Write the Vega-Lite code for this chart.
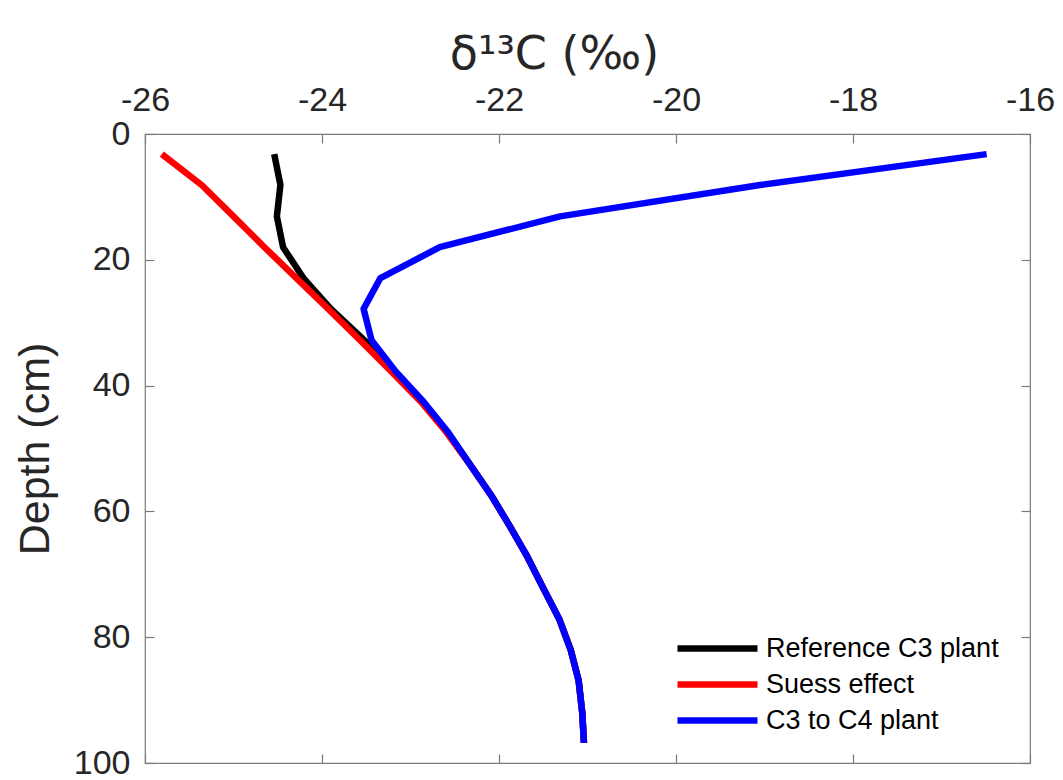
{
  "$schema": "https://vega.github.io/schema/vega-lite/v6.json",
  "width": 885,
  "height": 629,
  "autosize": {"type": "none"},
  "padding": {"left": 145, "top": 134, "right": 33, "bottom": 17},
  "background": "white",
  "config": {
    "font": "Liberation Sans",
    "view": {"stroke": "#7a7a7a", "strokeWidth": 1.2},
    "axis": {
      "domain": false,
      "grid": false,
      "tickColor": "#7a7a7a",
      "tickSize": -9,
      "tickWidth": 1.2,
      "labelFlush": false,
      "labelFont": "Liberation Sans",
      "labelFontSize": 34,
      "labelColor": "#262626",
      "titleFont": "Liberation Sans",
      "titleFontWeight": "normal",
      "titleColor": "#262626"
    }
  },
  "data": {
    "values": [
      {"series": "Reference C3 plant", "depth": 3.2, "d13C": -24.54},
      {"series": "Reference C3 plant", "depth": 8.1, "d13C": -24.47},
      {"series": "Reference C3 plant", "depth": 13.1, "d13C": -24.51},
      {"series": "Reference C3 plant", "depth": 18.0, "d13C": -24.44},
      {"series": "Reference C3 plant", "depth": 22.9, "d13C": -24.21},
      {"series": "Reference C3 plant", "depth": 27.8, "d13C": -23.90},
      {"series": "Reference C3 plant", "depth": 32.8, "d13C": -23.52},
      {"series": "Reference C3 plant", "depth": 37.7, "d13C": -23.18},
      {"series": "Reference C3 plant", "depth": 42.6, "d13C": -22.87},
      {"series": "Reference C3 plant", "depth": 47.5, "d13C": -22.58},
      {"series": "Reference C3 plant", "depth": 52.5, "d13C": -22.33},
      {"series": "Reference C3 plant", "depth": 57.4, "d13C": -22.09},
      {"series": "Reference C3 plant", "depth": 62.3, "d13C": -21.88},
      {"series": "Reference C3 plant", "depth": 67.2, "d13C": -21.68},
      {"series": "Reference C3 plant", "depth": 72.2, "d13C": -21.50},
      {"series": "Reference C3 plant", "depth": 77.1, "d13C": -21.32},
      {"series": "Reference C3 plant", "depth": 82.0, "d13C": -21.19},
      {"series": "Reference C3 plant", "depth": 86.9, "d13C": -21.10},
      {"series": "Reference C3 plant", "depth": 91.9, "d13C": -21.06},
      {"series": "Reference C3 plant", "depth": 96.8, "d13C": -21.04},
      {"series": "Suess effect", "depth": 3.2, "d13C": -25.81},
      {"series": "Suess effect", "depth": 8.1, "d13C": -25.36},
      {"series": "Suess effect", "depth": 13.1, "d13C": -25.00},
      {"series": "Suess effect", "depth": 18.0, "d13C": -24.65},
      {"series": "Suess effect", "depth": 22.9, "d13C": -24.29},
      {"series": "Suess effect", "depth": 27.8, "d13C": -23.93},
      {"series": "Suess effect", "depth": 32.8, "d13C": -23.57},
      {"series": "Suess effect", "depth": 37.7, "d13C": -23.22},
      {"series": "Suess effect", "depth": 42.6, "d13C": -22.88},
      {"series": "Suess effect", "depth": 47.5, "d13C": -22.59},
      {"series": "Suess effect", "depth": 52.5, "d13C": -22.33},
      {"series": "Suess effect", "depth": 57.4, "d13C": -22.09},
      {"series": "Suess effect", "depth": 62.3, "d13C": -21.88},
      {"series": "Suess effect", "depth": 67.2, "d13C": -21.68},
      {"series": "Suess effect", "depth": 72.2, "d13C": -21.50},
      {"series": "Suess effect", "depth": 77.1, "d13C": -21.32},
      {"series": "Suess effect", "depth": 82.0, "d13C": -21.19},
      {"series": "Suess effect", "depth": 86.9, "d13C": -21.10},
      {"series": "Suess effect", "depth": 91.9, "d13C": -21.06},
      {"series": "Suess effect", "depth": 96.8, "d13C": -21.04},
      {"series": "C3 to C4 plant", "depth": 3.2, "d13C": -16.49},
      {"series": "C3 to C4 plant", "depth": 8.1, "d13C": -19.05},
      {"series": "C3 to C4 plant", "depth": 13.1, "d13C": -21.31},
      {"series": "C3 to C4 plant", "depth": 18.0, "d13C": -22.67},
      {"series": "C3 to C4 plant", "depth": 22.9, "d13C": -23.34},
      {"series": "C3 to C4 plant", "depth": 27.8, "d13C": -23.53},
      {"series": "C3 to C4 plant", "depth": 32.8, "d13C": -23.44},
      {"series": "C3 to C4 plant", "depth": 37.7, "d13C": -23.17},
      {"series": "C3 to C4 plant", "depth": 42.6, "d13C": -22.85},
      {"series": "C3 to C4 plant", "depth": 47.5, "d13C": -22.57},
      {"series": "C3 to C4 plant", "depth": 52.5, "d13C": -22.33},
      {"series": "C3 to C4 plant", "depth": 57.4, "d13C": -22.09},
      {"series": "C3 to C4 plant", "depth": 62.3, "d13C": -21.88},
      {"series": "C3 to C4 plant", "depth": 67.2, "d13C": -21.68},
      {"series": "C3 to C4 plant", "depth": 72.2, "d13C": -21.50},
      {"series": "C3 to C4 plant", "depth": 77.1, "d13C": -21.32},
      {"series": "C3 to C4 plant", "depth": 82.0, "d13C": -21.19},
      {"series": "C3 to C4 plant", "depth": 86.9, "d13C": -21.10},
      {"series": "C3 to C4 plant", "depth": 91.9, "d13C": -21.06},
      {"series": "C3 to C4 plant", "depth": 96.8, "d13C": -21.04}
    ]
  },
  "layer": [
    {
      "mark": {"type": "line", "strokeWidth": 6.5, "strokeCap": "butt", "strokeJoin": "round"},
      "encoding": {
        "x": {
          "field": "d13C", "type": "quantitative",
          "scale": {"domain": [-26, -16], "nice": false, "zero": false},
          "axis": {
            "orient": "top",
            "values": [-26, -24, -22, -20, -18, -16],
            "labelExpr": "toString(datum.value)",
            "labelPadding": 26,
            "title": "δ¹³C (‰)",
            "titleFont": "DejaVu Sans",
            "titleFontSize": 46,
            "titlePadding": 5,
            "titleX": 409
          }
        },
        "y": {
          "field": "depth", "type": "quantitative",
          "scale": {"domain": [0, 100], "reverse": true, "nice": false, "zero": false},
          "axis": {
            "orient": "left",
            "values": [0, 20, 40, 60, 80, 100],
            "labelPadding": 24,
            "title": "Depth (cm)",
            "titleFontSize": 43,
            "titlePadding": 16
          }
        },
        "color": {
          "field": "series", "type": "nominal",
          "scale": {
            "domain": ["Reference C3 plant", "Suess effect", "C3 to C4 plant"],
            "range": ["#000000", "#ff0000", "#0000ff"]
          },
          "legend": {
            "orient": "none",
            "legendX": 559,
            "legendY": 501,
            "title": null,
            "symbolType": "M-4,0H4",
            "symbolStrokeWidth": 6.5,
            "symbolSize": 400,
            "labelFontSize": 27,
            "labelFont": "Liberation Sans",
            "labelColor": "#000000",
            "labelLimit": 500,
            "labelOffset": 35,
            "rowPadding": 8
          }
        },
        "order": {"field": "depth", "type": "quantitative"}
      }
    },
    {
      "mark": {"type": "point", "opacity": 0},
      "encoding": {
        "x": {
          "field": "d13C", "type": "quantitative",
          "axis": {"orient": "bottom", "values": [-26, -24, -22, -20, -18, -16], "labels": false, "title": null}
        },
        "y": {
          "field": "depth", "type": "quantitative",
          "axis": {"orient": "right", "values": [0, 20, 40, 60, 80, 100], "labels": false, "title": null}
        }
      }
    }
  ],
  "resolve": {"axis": {"x": "independent", "y": "independent"}}
}
